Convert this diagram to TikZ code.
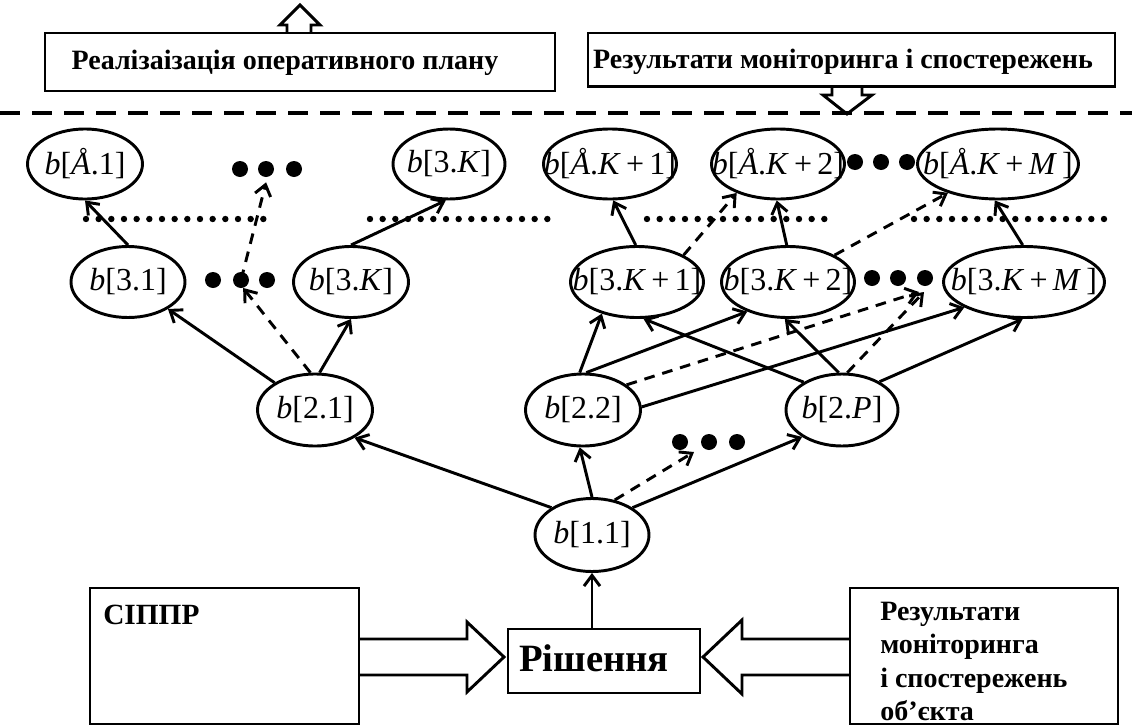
\documentclass[tikz,border=0pt]{standalone}
\usepackage{fontspec}
\setmainfont{Liberation Serif}[BoldFont={Liberation Serif Bold},ItalicFont={Liberation Serif Italic},BoldItalicFont={Liberation Serif Bold Italic}]
\usetikzlibrary{arrows.meta,shapes.geometric,calc}
\newcommand\elab[1]{\makebox[0pt]{#1}}
\begin{document}
\begin{tikzpicture}[x=0.75pt,y=-0.75pt,
  nd/.style 2 args={ellipse,draw,line width=2.2pt,inner sep=0pt,minimum width=#1*0.75pt,minimum height=#2*0.75pt,font=\fontsize{24pt}{28pt}\selectfont},
  con/.style={line width=2.2pt,-{Straight Barb[length=8pt,width=12pt]}},
  dcon/.style={con,dash pattern=on 8pt off 6pt},
  bullet/.style={circle,fill,inner sep=0pt,minimum size=12pt},
  dotrow/.style={line width=4.8pt,line cap=round,dash pattern=on 0pt off 9.5pt},
  box/.style={draw,line width=2.2pt,inner sep=0pt},
  btext/.style={font=\fontsize{21pt}{25pt}\selectfont\bfseries,inner sep=0pt},
  hollow/.style={draw,line width=2.2pt,line join=miter}
]
\useasboundingbox (0,0) rectangle (1132,725);

% top boxes
\node[box,minimum width=382.5pt,minimum height=43.5pt] (box1) at (300,62) {};
\node[btext,anchor=base] (box1t) at (285,69.5) {Реалізаізація оперативного плану};
\node[box,minimum width=395.25pt,minimum height=40.1pt] (box2) at (851.5,59.75) {};
\node[btext,anchor=base] (box2t) at (843,68) {Результати моніторинга і спостережень};
\draw[hollow] (287,33) -- (287,25) -- (280,25) -- (300,5) -- (320,25) -- (311,25) -- (311,33);
\draw[hollow] (832,86.5) -- (832,95) -- (823,95) -- (847,114) -- (872,95) -- (862,95) -- (862,86.5);

% separator
\draw[line width=3pt,dash pattern=on 15pt off 9pt] (0,113) -- (1132,113);

% dotted rows
\draw[dotrow] (86,219) -- (275,219);
\draw[dotrow] (370,219) -- (555,219);
\draw[dotrow] (647,219) -- (835,219);
\draw[dotrow] (914,219) -- (1104,219);

% top row
\node[nd={115}{70}] (bE1) at (85,164) {\elab{\textit{b}[\textit{Å}.1]}};
\node[nd={112}{70}] (bEK) at (449,164) {\elab{\textit{b}[3.\textit{K}]}};
\node[nd={133}{70}] (bEK1) at (610,164) {\elab{\textit{b}[\textit{Å}.\textit{K}\,+\,1]}};
\node[nd={133}{70}] (bEK2) at (778,164) {\elab{\textit{b}[\textit{Å}.\textit{K}\,+\,2]}};
\node[nd={161}{70}] (bEKM) at (998,164) {\elab{\textit{b}[\textit{Å}.\textit{K}\,+\,\textit{M}\,]}};
\node[bullet] (dt1) at (240,169) {};
\node[bullet] (dt2) at (266,169) {};
\node[bullet] (dt3) at (294,169) {};
\node[bullet] (du1) at (855,162) {};
\node[bullet] (du2) at (881,162) {};
\node[bullet] (du3) at (907,162) {};

% row 3
\node[nd={114}{71}] (b31) at (128,282) {\elab{\textit{b}[3.1]}};
\node[nd={115}{71}] (b3K) at (351,282) {\elab{\textit{b}[3.\textit{K}]}};
\node[nd={133}{71}] (b3K1) at (637,282) {\elab{\textit{b}[3.\textit{K}\,+\,1]}};
\node[nd={133}{71}] (b3K2) at (788,282) {\elab{\textit{b}[3.\textit{K}\,+\,2]}};
\node[nd={161}{71}] (b3KM) at (1024,282) {\elab{\textit{b}[3.\textit{K}\,+\,\textit{M}\,]}};
\node[bullet] (dl1) at (213,280) {};
\node[bullet] (dl2) at (241,280) {};
\node[bullet] (dl3) at (267,280) {};
\node[bullet] (dr1) at (872,278) {};
\node[bullet] (dr2) at (898,278) {};
\node[bullet] (dr3) at (925,278) {};

% row 2
\node[nd={115}{72}] (b21) at (315,410) {\elab{\textit{b}[2.1]}};
\node[nd={115}{72}] (b22) at (583,410) {\elab{\textit{b}[2.2]}};
\node[nd={112}{72}] (b2P) at (842,410) {\elab{\textit{b}[2.\textit{P}]}};
\node[bullet] (dm1) at (680,442) {};
\node[bullet] (dm2) at (709,442) {};
\node[bullet] (dm3) at (737,442) {};

% row 1
\node[nd={114}{73}] (b11) at (592,535) {\elab{\textit{b}[1.1]}};

% bottom boxes
\node[box,minimum width=144pt,minimum height=48pt] (resh) at (604,661) {};
\node[font=\fontsize{29pt}{33pt}\selectfont\bfseries,inner sep=0pt,anchor=base] (resht) at (594,671) {Рішення};
\node[box,minimum width=201.75pt,minimum height=102pt] (sippr) at (224.5,656) {};
\node[font=\fontsize{22pt}{26pt}\selectfont\bfseries,inner sep=0pt,anchor=base west] (sipprt) at (103,624) {СІППР};
\node[box,minimum width=201pt,minimum height=102pt] (rbox) at (984,656) {};
\node[btext,anchor=north west,align=left] (rboxt) at (880,602) {Результати\\моніторинга\\і спостережень\\об’єкта};
\draw[hollow] (359,639) -- (467,639) -- (467,622) -- (504,657) -- (467,692) -- (467,675) -- (359,675);
\draw[hollow] (850,639) -- (742,639) -- (742,620) -- (703,657) -- (742,694) -- (742,675) -- (850,675);

% free ends
\coordinate (cM) at (694,452);
\coordinate (cR1) at (919,292);
\coordinate (cR2) at (924,292);

% connectors
\draw[con] (b11.south |- resh.north) -- (b11.south);
\draw[con] (b11.146) -- (b21.-35);
\draw[con] (b11.90) -- (b22.-95);
\draw[dcon] (b11.57) -- (cM);
\draw[con] (b11.34) -- (b2P.214);

\draw[con] (b21.146) -- (b31.-34);
\draw[dcon] (b21.97) -- (dl2.-75);
\draw[con] (b21.83) -- (b3K.-90);
\draw[con] (b22.95) -- (b3K1.222);
\draw[con] (b22.85) -- (b3K2.216);
\draw[dcon] (b22.30) -- (cR1);
\draw[con] (b22.3) -- (b3KM.203);
\draw[con] (b2P.144) -- (b3K1.-80);
\draw[con] (b2P.95) -- (b3K2.-95);
\draw[dcon] (b2P.82) -- (cR2);
\draw[con] (b2P.37) -- (b3KM.-92);

\draw[con] (b31.90) -- (bE1.-90);
\draw[dcon,shorten >=4pt] (dl2.center) -- (dt2.-80);
\draw[con] (b3K.90) -- (bEK.-95);
\draw[con] (b3K1.92) -- (bEK1.-85);
\draw[dcon] (b3K1.30) -- (bEK2.215);
\draw[con] (b3K2.92) -- (bEK2.-92);
\draw[dcon] (b3K2.30) -- (bEKM.210);
\draw[con] (b3KM.92) -- (bEKM.-95);
\end{tikzpicture}
\end{document}
